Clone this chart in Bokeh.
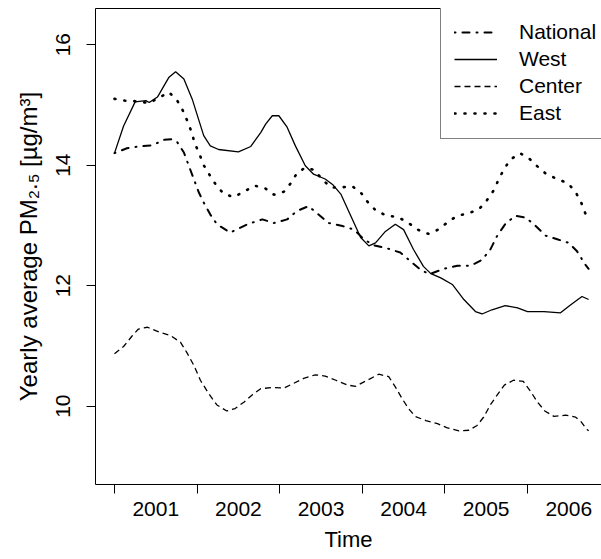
from bokeh.embed import file_html
from bokeh.models import FixedTicker, Legend, LegendItem, LinearAxis, Range1d
from bokeh.plotting import figure
from bokeh.resources import INLINE

FONT = "Liberation Sans"

# Axis ticks: year labels sit between the year-boundary tick marks
year_labels = [2001, 2002, 2003, 2004, 2005, 2006]
year_boundaries = [2000.5, 2001.5, 2002.5, 2003.5, 2004.5, 2005.5]
pm_ticks = [10, 12, 14, 16]

# Yearly average PM2.5 (ug/m3), smoothed series by region
national_t = [2000.50, 2000.65, 2000.79, 2000.96, 2001.10, 2001.20, 2001.26, 2001.34,
              2001.40, 2001.46, 2001.52, 2001.58, 2001.66, 2001.74, 2001.90, 2002.11,
              2002.29, 2002.43, 2002.59, 2002.71, 2002.85, 2002.97, 2003.09, 2003.26,
              2003.40, 2003.52, 2003.64, 2003.80, 2003.96, 2004.08, 2004.20, 2004.31,
              2004.49, 2004.65, 2004.81, 2004.95, 2005.05, 2005.13, 2005.23, 2005.35,
              2005.48, 2005.60, 2005.72, 2005.86, 2006.00, 2006.10, 2006.20, 2006.24]
national_pm = [14.20, 14.28, 14.31, 14.33, 14.42, 14.43, 14.38, 14.21,
               13.99, 13.77, 13.55, 13.38, 13.18, 13.02, 12.88, 13.02,
               13.10, 13.04, 13.10, 13.24, 13.32, 13.18, 13.04, 12.99,
               12.93, 12.77, 12.67, 12.62, 12.55, 12.41, 12.27, 12.19,
               12.28, 12.33, 12.33, 12.43, 12.60, 12.82, 13.02, 13.16,
               13.13, 12.99, 12.83, 12.77, 12.71, 12.57, 12.35, 12.28]

west_t = [2000.50, 2000.61, 2000.75, 2000.88, 2000.92, 2001.02, 2001.16, 2001.24,
          2001.34, 2001.44, 2001.58, 2001.66, 2001.76, 2002.00, 2002.15, 2002.27,
          2002.33, 2002.41, 2002.49, 2002.59, 2002.69, 2002.81, 2002.91, 2003.05,
          2003.14, 2003.24, 2003.36, 2003.48, 2003.58, 2003.66, 2003.78, 2003.90,
          2004.00, 2004.12, 2004.24, 2004.33, 2004.45, 2004.59, 2004.73, 2004.87,
          2004.95, 2005.07, 2005.23, 2005.38, 2005.50, 2005.70, 2005.90, 2006.02,
          2006.16, 2006.24]
west_pm = [14.20, 14.65, 15.05, 15.07, 15.04, 15.13, 15.46, 15.55,
           15.43, 15.10, 14.49, 14.32, 14.26, 14.22, 14.31, 14.54,
           14.68, 14.82, 14.82, 14.63, 14.32, 13.99, 13.85, 13.77,
           13.68, 13.52, 13.16, 12.80, 12.66, 12.71, 12.90, 13.02,
           12.93, 12.60, 12.32, 12.20, 12.13, 12.02, 11.77, 11.57,
           11.53, 11.60, 11.67, 11.63, 11.57, 11.57, 11.55, 11.68,
           11.82, 11.77]

center_t = [2000.50, 2000.61, 2000.71, 2000.79, 2000.90, 2001.04, 2001.18, 2001.30,
            2001.38, 2001.46, 2001.54, 2001.64, 2001.74, 2001.86, 2001.96, 2002.07,
            2002.17, 2002.27, 2002.41, 2002.55, 2002.67, 2002.79, 2002.93, 2003.05,
            2003.18, 2003.32, 2003.42, 2003.56, 2003.70, 2003.82, 2003.90, 2003.98,
            2004.06, 2004.14, 2004.27, 2004.41, 2004.53, 2004.67, 2004.79, 2004.89,
            2004.97, 2005.05, 2005.13, 2005.22, 2005.33, 2005.45, 2005.54, 2005.62,
            2005.71, 2005.82, 2005.96, 2006.08, 2006.15, 2006.21, 2006.24]
center_pm = [10.87, 10.99, 11.16, 11.28, 11.31, 11.23, 11.17, 11.06,
             10.88, 10.68, 10.43, 10.21, 10.02, 9.92, 9.96, 10.07,
             10.19, 10.29, 10.31, 10.30, 10.38, 10.46, 10.52, 10.50,
             10.43, 10.35, 10.33, 10.43, 10.53, 10.49, 10.32, 10.13,
             9.96, 9.83, 9.76, 9.71, 9.64, 9.59, 9.60, 9.68,
             9.82, 10.02, 10.18, 10.35, 10.43, 10.41, 10.24, 10.07,
             9.92, 9.83, 9.85, 9.82, 9.74, 9.63, 9.59]

east_t = [2000.50, 2000.63, 2000.77, 2000.92, 2001.04, 2001.16, 2001.26, 2001.33,
          2001.38, 2001.43, 2001.47, 2001.53, 2001.58, 2001.65, 2001.73, 2001.82,
          2001.94, 2002.07, 2002.19, 2002.31, 2002.43, 2002.55, 2002.64, 2002.71,
          2002.81, 2002.92, 2003.01, 2003.12, 2003.24, 2003.38, 2003.49, 2003.57,
          2003.67, 2003.80, 2003.93, 2004.06, 2004.17, 2004.30, 2004.42, 2004.54,
          2004.65, 2004.79, 2004.92, 2005.01, 2005.09, 2005.15, 2005.21, 2005.29,
          2005.41, 2005.52, 2005.62, 2005.73, 2005.86, 2005.99, 2006.08, 2006.15,
          2006.20, 2006.24]
east_pm = [15.10, 15.07, 15.06, 15.03, 15.12, 15.21, 15.07, 14.90,
           14.74, 14.56, 14.37, 14.18, 14.00, 13.84, 13.67, 13.53,
           13.47, 13.56, 13.66, 13.63, 13.51, 13.56, 13.71, 13.87,
           13.96, 13.92, 13.77, 13.63, 13.63, 13.65, 13.53, 13.38,
           13.24, 13.16, 13.14, 13.04, 12.93, 12.86, 12.93, 13.06,
           13.16, 13.20, 13.28, 13.42, 13.58, 13.76, 13.92, 14.09,
           14.20, 14.11, 13.98, 13.85, 13.77, 13.70, 13.56, 13.38,
           13.20, 13.12]

series = [
    ("National", national_t, national_pm,
     dict(line_width=2.0, line_dash="1 7 7 7", line_cap="round")),
    ("West", west_t, west_pm, dict(line_width=1.3)),
    ("Center", center_t, center_pm, dict(line_width=1.3, line_dash="6 4")),
    ("East", east_t, east_pm,
     dict(line_width=2.6, line_dash="1 9", line_cap="round")),
]

p = figure(
    width=601, height=559,
    output_backend="svg", toolbar_location=None,
    x_range=Range1d(2000.27, 2006.396), y_range=Range1d(8.7, 16.6),
    min_border_left=95, min_border_right=0, min_border_top=8, min_border_bottom=75,
    background_fill_color="white", border_fill_color="white",
)
p.grid.visible = False
p.outline_line_color = None

# bottom axis: tick marks on year boundaries, labels centred in each year
xa = p.xaxis[0]
xa.ticker = FixedTicker(ticks=year_labels, minor_ticks=year_boundaries)
xa.major_label_overrides = {y: str(y) for y in year_labels}
xa.major_tick_out = 0
xa.major_tick_in = 0
xa.minor_tick_out = 9
xa.minor_tick_in = 0
xa.minor_tick_line_color = "black"
xa.axis_line_color = "black"
xa.major_label_text_font = FONT
xa.major_label_text_font_size = "21px"
xa.major_label_text_color = "black"
xa.major_label_standoff = 8
xa.axis_label = "Time"
xa.axis_label_text_font = FONT
xa.axis_label_text_font_size = "22px"
xa.axis_label_text_font_style = "normal"
xa.axis_label_text_color = "black"
xa.axis_label_standoff = 8

# left axis: rotated tick labels and a title with sub/superscript characters
ya = p.yaxis[0]
ya.ticker = FixedTicker(ticks=pm_ticks)
ya.major_tick_out = 9
ya.major_tick_in = 0
ya.minor_tick_out = 0
ya.minor_tick_in = 0
ya.major_tick_line_color = "black"
ya.axis_line_color = "black"
ya.major_label_orientation = "vertical"
ya.major_label_text_font = FONT
ya.major_label_text_font_size = "21px"
ya.major_label_text_color = "black"
ya.major_label_standoff = 16
ya.axis_label = "Yearly average PM\u2082.\u2085 [\u00b5g/m\u00b3]"
ya.axis_label_text_font = FONT
ya.axis_label_text_font_size = "24px"
ya.axis_label_text_font_style = "normal"
ya.axis_label_text_color = "black"
ya.axis_label_standoff = 12

# top edge of the box
top = LinearAxis(ticker=FixedTicker(ticks=[]), major_tick_out=0, major_tick_in=0,
                 minor_tick_out=0, minor_tick_in=0, major_label_text_font_size="0px",
                 axis_line_color="black")
p.add_layout(top, "above")

items = []
for name, t, pm, style in series:
    r = p.line(t, pm, line_color="black", **style)
    items.append(LegendItem(label=name, renderers=[r]))

legend = Legend(
    items=items, location=(345, 345),
    label_text_font=FONT, label_text_font_size="21px", label_text_color="black",
    glyph_width=43, glyph_height=24, label_height=24, label_standoff=22,
    spacing=3, padding=13, margin=0,
    border_line_color="black", border_line_width=1,
    background_fill_color="white", background_fill_alpha=1.0,
)
p.add_layout(legend, "center")

open("out.html", "w").write(file_html(p, INLINE))
